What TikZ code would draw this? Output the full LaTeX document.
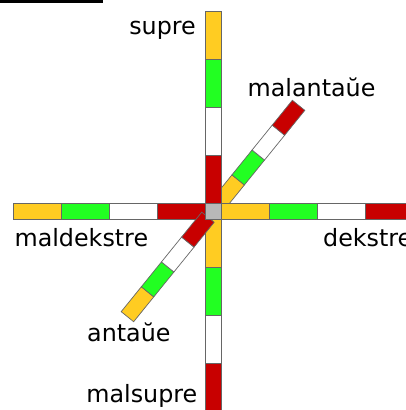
\documentclass[tikz,border=0pt]{standalone}
\usepackage{fontspec}
\setmainfont{DejaVu Sans}
\usetikzlibrary{positioning}
\definecolor{segy}{HTML}{FFCC22}
\definecolor{segg}{HTML}{22FF22}
\definecolor{segw}{HTML}{FFFFFF}
\definecolor{segr}{HTML}{C80000}
\definecolor{hubgray}{HTML}{B8B8B8}
\definecolor{edgegray}{HTML}{666666}
\tikzset{
  seg/.style={draw=edgegray,line width=0.7pt},
  lbl/.style={inner sep=0pt,font=\fontsize{23.8}{28}\selectfont,text=black},
}
\newcommand{\armcols}{segy,segg,segw,segr}

\begin{document}
\begin{tikzpicture}[x=1pt,y=1pt]
\clip (0,0) rectangle (406,410);
\coordinate (c) at (213,199);
\draw[line width=2.6pt] (0,408.6) -- (102.5,408.6);
% back half of the diagonal bar (behind)
\begin{scope}[shift={(c)},rotate=51]
\foreach \col [count=\i] in \armcols
  \filldraw[seg,fill=\col] ({8+32*(\i-1)},-8) rectangle ({8+32*\i},8);
\end{scope}
% horizontal and vertical bars
\begin{scope}[shift={(c)}]
\foreach \col [count=\i] in \armcols {
  \filldraw[seg,fill=\col] ({-200+48*(\i-1)},-8) rectangle ({-200+48*\i},8);
  \filldraw[seg,fill=\col] ({8+48*(\i-1)},-8) rectangle ({8+48*\i},8);
  \filldraw[seg,fill=\col] (-8,{200-48*(\i-1)}) rectangle (8,{200-48*\i});
  \filldraw[seg,fill=\col] (-8,{-8-48*(\i-1)}) rectangle (8,{-8-48*\i});
}
\end{scope}
% front half of the diagonal bar
\begin{scope}[shift={(c)},rotate=51]
\foreach \col [count=\i] in \armcols
  \filldraw[seg,fill=\col] ({-136+32*(\i-1)},-8) rectangle ({-136+32*\i},8);
\end{scope}
\node[seg,fill=hubgray,minimum size=16pt,inner sep=0pt] (hub) at (c) {};
% labels
\node[lbl,anchor=base east] (supre) at (196,375) {supre};
\node[lbl,anchor=base west] (malantaue) at (247.5,313.3) {malantaŭe};
\node[lbl,anchor=base west] (maldekstre) at (14.4,163.3) {maldekstre};
\node[lbl,anchor=base west] (dekstre) at (323,163.3) {dekstre};
\node[lbl,anchor=base west] (antaue) at (87,68.3) {antaŭe};
\node[lbl,anchor=base east] (malsupre) at (197.5,7) {malsupre};
\end{tikzpicture}
\end{document}
